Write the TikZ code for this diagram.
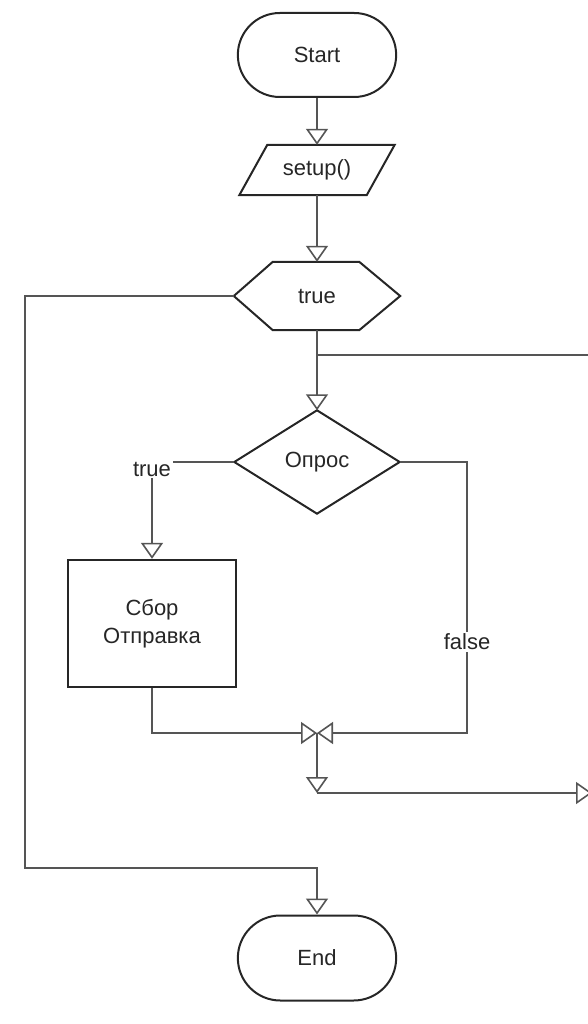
\documentclass[tikz,border=0pt]{standalone}
\usepackage{fontspec}
\setmainfont{Liberation Sans}
\usetikzlibrary{shapes.misc,arrows.meta,calc}
\definecolor{shapeline}{HTML}{262626}
\definecolor{conn}{HTML}{555555}
\tikzset{
  every node/.style={font=\fontsize{22}{28}\selectfont, text=black!85},
  term/.style={rounded rectangle, draw=shapeline, line width=2pt, minimum width=165pt, minimum height=84pt},
  ghost/.style={rectangle, draw=none, inner sep=0pt},
  outline/.style={draw=shapeline, line width=2pt, line join=miter},
  procbox/.style={rectangle, draw=shapeline, line width=2.4pt, minimum width=168pt, minimum height=127pt, align=center},
  link/.style={draw=conn, line width=2pt},
  flow/.style={link, -{Triangle[open, length=16pt, width=22pt, line width=1.6pt]}},
  lbl/.style={fill=white, inner sep=2pt}
}
\begin{document}
\begin{tikzpicture}[x=1pt,y=-1pt]
\useasboundingbox (0,0) rectangle (587,1024);
% nodes
\node[term] (start) at (317,55) {Start};
\node[ghost, minimum width=155pt, minimum height=50pt] (setup) at (317,170) {setup()};
\draw[outline] ($(setup.north west)+(28,0)$) -- (setup.north east) -- ($(setup.south east)+(-28,0)$) -- (setup.south west) -- cycle;
\node[ghost, minimum width=166pt, minimum height=68pt] (hex) at (317,296) {true};
\draw[outline] (hex.west) -- ($(hex.north west)+(39,0)$) -- ($(hex.north east)+(-41,0)$) -- (hex.east) -- ($(hex.south east)+(-41,0)$) -- ($(hex.south west)+(39,0)$) -- cycle;
\node[ghost, minimum width=165pt, minimum height=103pt] (dec) at (317,462) {Опрос};
\draw[outline] (dec.north) -- (dec.east) -- (dec.south) -- (dec.west) -- cycle;
\node[procbox] (box) at (152,623.5) {Сбор\\Отправка};
\node[term, minimum height=85pt] (endn) at (317,958) {End};
\node[lbl] (tl) at (152,469) {true};
\node[lbl] (fl) at (467,642) {false};
% coordinates
\coordinate (j1) at (317,355);
\coordinate (j1r) at (590,355);
\coordinate (m) at (317,733);
\coordinate (b) at (317,793);
\coordinate (br) at (592,793);
\coordinate (cL) at (25,868);
% connectors
\draw[flow] (start.south) -- (setup.north);
\draw[flow] (setup.south) -- (hex.north);
\draw[flow] (hex.south) -- (dec.north);
\draw[link] (j1) -- (j1r);
\draw[flow] (hex.west) -| (cL) -| (endn.north);
\draw[link] (dec.west) -- (tl.east |- dec.west);
\draw[flow] (tl.south) -- (box.north);
\draw[flow] (box.south) |- (m);
\draw[link] (dec.east) -| (fl.north);
\draw[flow] (fl.south) |- (m);
\draw[flow] (m) -- (b);
\draw[flow] (b) -- (br);
\end{tikzpicture}
\end{document}
